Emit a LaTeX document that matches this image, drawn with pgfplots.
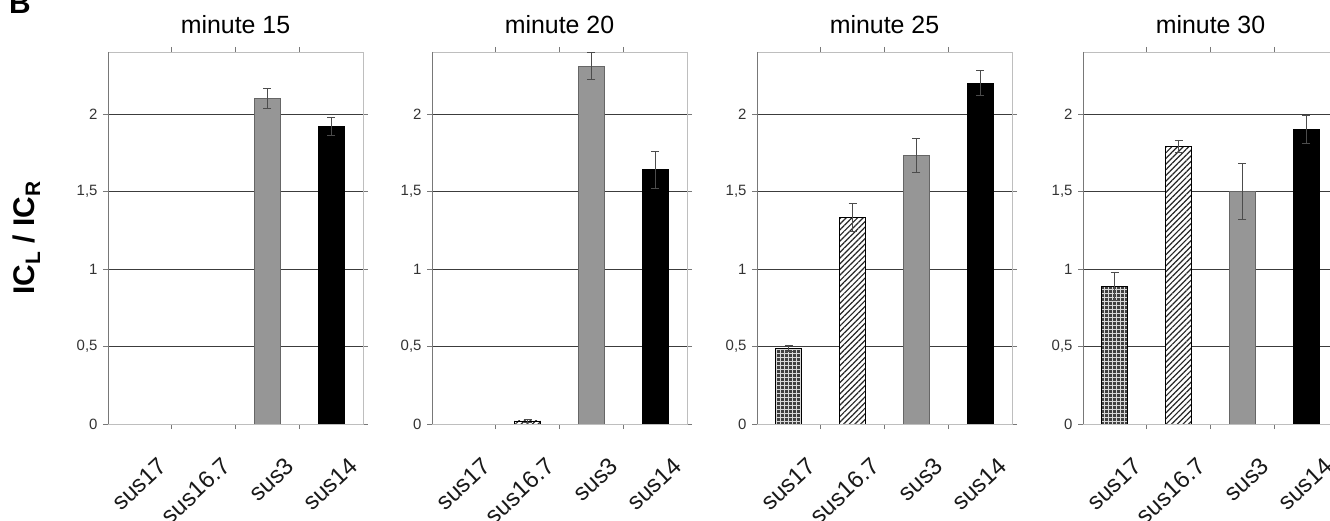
\documentclass[border=0pt]{standalone}
\usepackage{fontspec}
\setmainfont{Liberation Sans}
\usepackage{pgfplots}
\pgfplotsset{compat=1.18}
\usetikzlibrary{patterns,patterns.meta}
\definecolor{bargray}{RGB}{150,150,150}
\definecolor{framegray}{RGB}{190,190,190}
\definecolor{axisgray}{RGB}{120,120,120}
\definecolor{gridgray}{RGB}{60,60,60}
\pgfplotsset{
  panel/.style={
    scale only axis, width=255bp, height=372bp, anchor=south west,
    xmin=-0.5, xmax=3.5, ymin=0, ymax=2.4,
    ytick={0,0.5,1,1.5,2},
    ymajorgrids, grid style={gridgray, line width=0.8bp},
    xtick={0.5,1.5,2.5}, xticklabels={},
    extra x ticks={0,1,2,3},
    extra x tick labels={sus17,sus16.7,sus3,sus14},
    extra x tick style={major tick length=0pt},
    tick align=outside, major tick length=5bp,
    tick style={axisgray, line width=0.8bp},
    axis line style={framegray, line width=0.8bp},
    /pgf/number format/use comma,
    /pgf/number format/assume math mode=true,
    yticklabel style={font=\fontsize{15}{17}\selectfont, text=black!80, xshift=-2bp},
    xticklabel style={font=\fontsize{24}{27}\selectfont, text=black!90, xshift=17bp, yshift=-27bp, rotate=43, anchor=north east},
    title style={font=\fontsize{25}{28}\selectfont, yshift=9bp},
    ybar, bar width=26bp, bar shift=0pt,
    error bars/y dir=both, error bars/y explicit,
    error bars/error bar style={black!70, line width=0.8bp},
    error bars/error mark options={black!70, line width=0.8bp, mark size=4bp, rotate=90},
  },
  s17/.style={fill=black!75, draw=black, line width=0.8bp,
    postaction={pattern={Lines[distance=4bp,angle=0,line width=0.7bp]}, pattern color=white!85!black},
    postaction={pattern={Lines[distance=4bp,angle=90,line width=0.7bp]}, pattern color=white!85!black}},
  s167/.style={fill=white, draw=black, line width=0.8bp,
    postaction={pattern={Lines[distance=4bp,angle=45,line width=1.2bp]}, pattern color=black!85}},
  s3/.style={fill=bargray, draw=black!60, line width=0.8bp},
  s14/.style={fill=black, draw=black, line width=0.8bp},
}
\newcommand{\axlines}{\draw[axisgray, line width=1bp] (rel axis cs:0,1) -- (rel axis cs:0,0) -- (rel axis cs:1,0);}
\begin{document}
\begin{tikzpicture}
% minute 15
\begin{axis}[panel, at={(108bp,97bp)}, title={minute 15},
  ylabel={\bfseries IC\textsubscript{L} / IC\textsubscript{R}},
  ylabel style={at={(axis description cs:-0.32,0.5)}, anchor=center, font=\fontsize{30}{34}\selectfont}]
\addplot[s3] coordinates {(2,2.10) +- (0,0.065)};
\addplot[s14] coordinates {(3,1.92) +- (0,0.06)};
\axlines
\end{axis}
% minute 20
\begin{axis}[panel, at={(432bp,97bp)}, title={minute 20}]
\addplot[s167] coordinates {(1,0.02) +- (0,0.01)};
\addplot[s3] coordinates {(2,2.31) +- (0,0.085)};
\addplot[s14] coordinates {(3,1.64) +- (0,0.12)};
\axlines
\end{axis}
% minute 25
\begin{axis}[panel, at={(757bp,97bp)}, title={minute 25}]
\addplot[s17] coordinates {(0,0.49) +- (0,0.02)};
\addplot[s167] coordinates {(1,1.33) +- (0,0.09)};
\addplot[s3] coordinates {(2,1.73) +- (0,0.11)};
\addplot[s14] coordinates {(3,2.20) +- (0,0.08)};
\axlines
\end{axis}
% minute 30
\begin{axis}[panel, at={(1083bp,97bp)}, title={minute 30}]
\addplot[s17] coordinates {(0,0.89) +- (0,0.09)};
\addplot[s167] coordinates {(1,1.79) +- (0,0.04)};
\addplot[s3] coordinates {(2,1.50) +- (0,0.18)};
\addplot[s14] coordinates {(3,1.90) +- (0,0.09)};
\axlines
\end{axis}
\node[anchor=base west, font=\fontsize{30}{34}\selectfont\bfseries, inner sep=0pt] at (9bp,507bp) {B};
\pgfresetboundingbox
\path[use as bounding box] (0,0) rectangle (1330bp,521bp);
\end{tikzpicture}
\end{document}
